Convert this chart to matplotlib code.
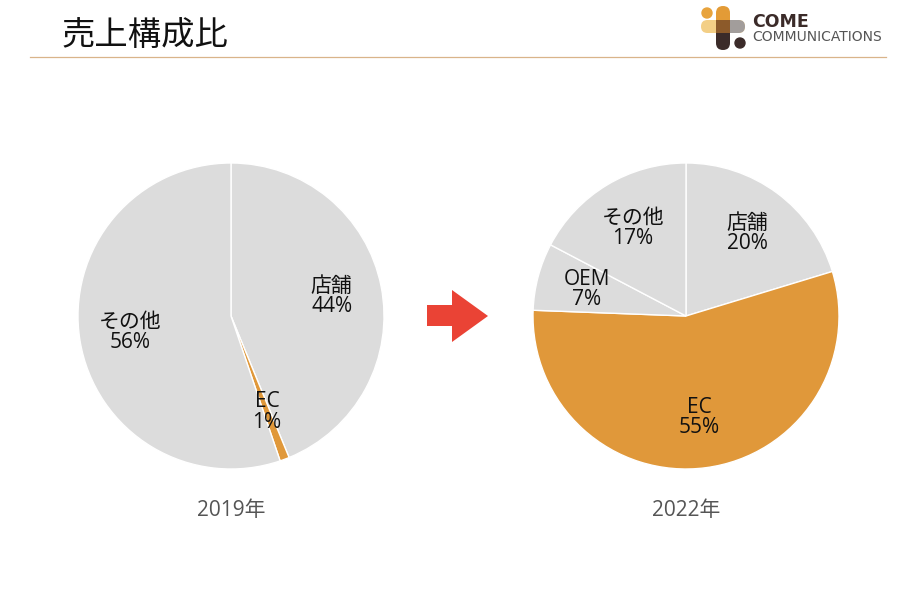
import numpy as np
import matplotlib
matplotlib.use('Agg')
import matplotlib.pyplot as plt
from matplotlib.patches import Polygon, FancyBboxPatch, Circle, Rectangle

plt.rcParams['font.family'] = ['Open Sans', 'Noto Sans CJK JP', 'DejaVu Sans']

# データ
title = '売上構成比'
years = ['2019年', '2022年']
labels_2019 = ['店舗', 'EC', 'その他']
values_2019 = [43.8, 1.0, 55.2]
pct_2019 = ['44%', '1%', '56%']
labels_2022 = ['店舗', 'EC', 'OEM', 'その他']
values_2022 = [20.3, 55.3, 7.1, 17.3]
pct_2022 = ['20%', '55%', '7%', '17%']

GRAY = '#dcdcdc'
ORANGE = '#e0983a'
colors_2019 = [GRAY, ORANGE, GRAY]
colors_2022 = [GRAY, ORANGE, GRAY, GRAY]

W, H = 920, 607
fig = plt.figure(figsize=(W / 100, H / 100), dpi=100)
fig.patch.set_facecolor('white')

# 装飾用の座標(ピクセル)
ax0 = fig.add_axes([0, 0, 1, 1])
ax0.set_xlim(0, W)
ax0.set_ylim(H, 0)
ax0.axis('off')

ax0.text(62, 35, title, fontsize=24, color='#111111', va='center', ha='left',
         family=['Noto Sans CJK JP'])
ax0.plot([30, 886], [57, 57], color='#d9b48a', lw=0.9)

# ロゴ
ax0.add_patch(Circle((707, 13), 5, color='#e8a33c'))
ax0.add_patch(FancyBboxPatch((701, 20), 44, 13, boxstyle='round,pad=0,rounding_size=6.5',
                             color='#f3cf86', lw=0))
ax0.add_patch(FancyBboxPatch((722, 20), 23, 13, boxstyle='round,pad=0,rounding_size=6.5',
                             color='#a29d9b', lw=0))
ax0.add_patch(FancyBboxPatch((716, 6), 14, 24, boxstyle='round,pad=0,rounding_size=7',
                             color='#e39b36', lw=0))
ax0.add_patch(FancyBboxPatch((716, 26), 14, 24, boxstyle='round,pad=0,rounding_size=7',
                             color='#3b2b29', lw=0))
ax0.add_patch(Rectangle((716, 20), 14, 13, color='#8c5a2a', lw=0))
ax0.add_patch(Circle((740, 43), 5, color='#3b2b29'))
ax0.text(752, 22, 'COME', fontsize=12.5, fontweight='bold', color='#3b2b29',
         va='center', ha='left', family=['DejaVu Sans'])
ax0.text(752, 37, 'COMMUNICATIONS', fontsize=10, color='#555555',
         va='center', ha='left', family=['DejaVu Sans'])

# 矢印
ax0.add_patch(Polygon([(427, 305), (452, 305), (452, 290), (488, 316),
                       (452, 342), (452, 326), (427, 326)],
                      closed=True, color='#ea4335', lw=0))


def draw_pie(rect, values, labels, pcts, colors, year):
    ax = fig.add_axes(rect)
    wedges, texts = ax.pie(values, labels=[f'{l}\n{p}' for l, p in zip(labels, pcts)],
                           colors=colors, startangle=90, counterclock=False,
                           labeldistance=0.67,
                           wedgeprops=dict(edgecolor='white', linewidth=1.0),
                           textprops=dict(fontsize=15, color='#111111',
                                          linespacing=0.95))
    for t in texts:
        t.set_horizontalalignment('center')
        t.set_verticalalignment('center')
    ax.set_xlim(-1, 1)
    ax.set_ylim(-1, 1)
    ax.set_aspect('equal')
    ax.text(0, -1.27, year, ha='center', va='center', fontsize=15, color='#555555')
    return ax


draw_pie([78 / W, (H - 469) / H, 306 / W, 306 / H], values_2019, labels_2019,
         pct_2019, colors_2019, years[0])
draw_pie([533 / W, (H - 469) / H, 306 / W, 306 / H], values_2022, labels_2022,
         pct_2022, colors_2022, years[1])

fig.savefig('out.png', dpi=100)
